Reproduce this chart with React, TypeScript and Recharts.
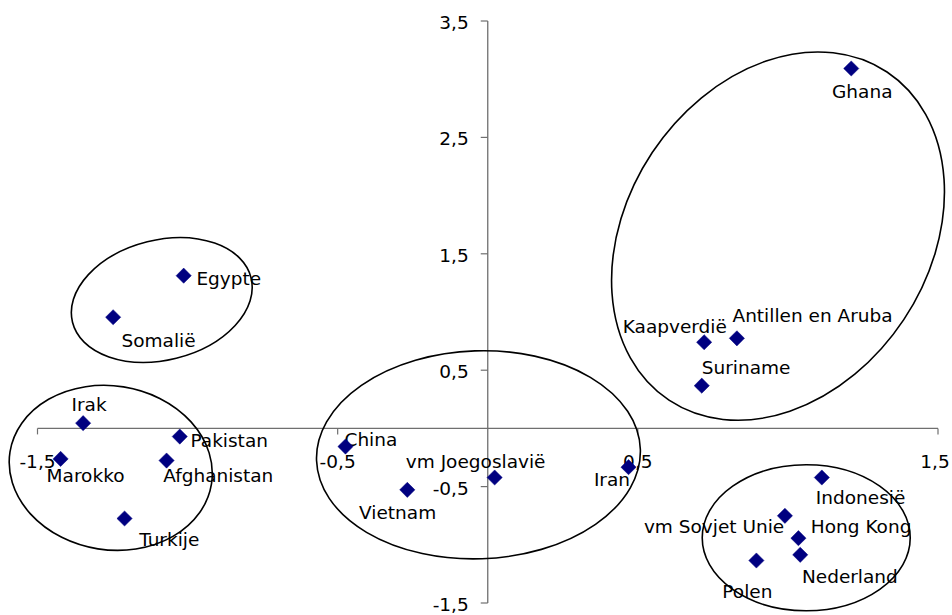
import React from 'react';
import { ScatterChart, Scatter, XAxis, YAxis, ReferenceLine, ReferenceDot } from 'recharts';

// ---- data ----
const countries = [
  'Ghana', 'Egypte', 'Somalië', 'Antillen en Aruba', 'Kaapverdië', 'Suriname',
  'Irak', 'Pakistan', 'Marokko', 'Afghanistan', 'Turkije',
  'China', 'Vietnam', 'vm Joegoslavië', 'Iran',
  'Indonesië', 'vm Sovjet Unie', 'Hong Kong', 'Nederland', 'Polen',
];
const xValues = [
  1.211, -1.013, -1.248, 0.830, 0.721, 0.713,
  -1.348, -1.026, -1.423, -1.070, -1.210,
  -0.474, -0.268, 0.023, 0.469,
  1.113, 0.990, 1.035, 1.041, 0.895,
];
const yValues = [
  3.092, 1.312, 0.955, 0.774, 0.740, 0.367,
  0.045, -0.070, -0.262, -0.276, -0.774,
  -0.156, -0.528, -0.422, -0.333,
  -0.422, -0.751, -0.943, -1.086, -1.135,
];

const xTicks = [-1.5, -0.5, 0.5, 1.5];
const yTicks = [3.5, 2.5, 1.5, 0.5, -0.5, -1.5];

// centres of the group ellipses (data units)
const groupIds = ['noordafrika', 'westazie', 'midden', 'caribisch', 'oost'];
const groupCenterX = [-1.086, -1.256, -0.031, 0.967, 1.061];
const groupCenterY = [1.103, -0.339, -0.227, 1.652, -0.940];

// ---- styles / placement (kept apart from data) ----
const FONT = "'DejaVu Sans', Verdana, sans-serif";
const FONT_SIZE = 18.5;
const MARKER = '#000080';
const AXIS = '#6f6f6f';

const ellipseStyle: Record<string, { rx: number; ry: number; angle: number }> = {
  noordafrika: { rx: 92, ry: 60, angle: -14 },
  westazie: { rx: 102, ry: 82, angle: 9 },
  midden: { rx: 162, ry: 104, angle: -2 },
  caribisch: { rx: 197, ry: 151, angle: -56.4 },
  oost: { rx: 104, ry: 73, angle: 0 },
};

type Anchor = 'start' | 'middle' | 'end';
const labelPlacement: Record<string, [number, number, Anchor]> = {
  'Ghana': [11, 30, 'middle'],
  'Egypte': [12.7, 9.3, 'start'],
  'Somalië': [8.4, 29.4, 'start'],
  'Antillen en Aruba': [-4.4, -16.6, 'start'],
  'Kaapverdië': [22.7, -9, 'end'],
  'Suriname': [0, -11.7, 'start'],
  'Irak': [-11.6, -12.6, 'start'],
  'Pakistan': [10.7, 10, 'start'],
  'Marokko': [-14, 22.7, 'start'],
  'Afghanistan': [-3.4, 21, 'start'],
  'Turkije': [14.6, 27.3, 'start'],
  'China': [-1, -0.7, 'start'],
  'Vietnam': [-9.7, 29.3, 'middle'],
  'vm Joegoslavië': [-19, -10, 'middle'],
  'Iran': [1.5, 18.4, 'end'],
  'Indonesië': [-6, 26.3, 'start'],
  'vm Sovjet Unie': [-0.7, 17.3, 'end'],
  'Hong Kong': [12.4, -5, 'start'],
  'Nederland': [1.7, 27.7, 'start'],
  'Polen': [-9, 37.6, 'middle'],
};

const points = countries.map((name, i) => ({ name, x: xValues[i], y: yValues[i] }));
const groups = groupIds.map((id, i) => ({ id, x: groupCenterX[i], y: groupCenterY[i] }));

const fmt = (v: number) => v.toFixed(1).replace('.', ',');

const PointShape = (props: any) => {
  const { cx, cy, payload } = props;
  if (cx == null || cy == null) return null;
  const d = 7.6;
  const [dx, dy, anchor] = labelPlacement[payload.name] || [8, 0, 'start'];
  return (
    <g>
      <text
        x={cx + dx}
        y={cy + dy}
        textAnchor={anchor}
        fontFamily={FONT}
        fontSize={FONT_SIZE}
        fill="#000"
      >
        {payload.name}
      </text>
      <polygon
        points={`${cx},${cy - d} ${cx + d},${cy} ${cx},${cy + d} ${cx - d},${cy}`}
        fill={MARKER}
        stroke={MARKER}
        strokeWidth={0.5}
      />
    </g>
  );
};

const EllipseShape = (props: any) => {
  const { cx, cy, payload } = props;
  if (cx == null || cy == null) return null;
  const s = ellipseStyle[payload.id];
  return (
    <ellipse
      cx={cx}
      cy={cy}
      rx={s.rx}
      ry={s.ry}
      transform={`rotate(${s.angle} ${cx} ${cy})`}
      fill="none"
      stroke="#000"
      strokeWidth={1.6}
    />
  );
};

const makeXTick = (v: number, shift: number) => (props: any) => {
  const { cx, cy } = props;
  return (
    <g>
      <line x1={cx} y1={cy} x2={cx} y2={cy + 6} stroke={AXIS} strokeWidth={1.2} />
      <text x={cx + shift} y={cy + 40} textAnchor="middle" fontFamily={FONT} fontSize={FONT_SIZE} fill="#000">
        {fmt(v)}
      </text>
    </g>
  );
};

const makeYTick = (v: number) => (props: any) => {
  const { cx, cy } = props;
  return (
    <g>
      <line x1={cx - 7} y1={cy} x2={cx} y2={cy} stroke={AXIS} strokeWidth={1.2} />
      <text x={cx - 19} y={cy + 8} textAnchor="end" fontFamily={FONT} fontSize={FONT_SIZE} fill="#000">
        {fmt(v)}
      </text>
    </g>
  );
};

export default function App() {
  return (
    <div style={{ position: 'absolute', left: 0, top: 0, width: 952, height: 615, background: '#fff' }}>
      <ScatterChart
        width={952}
        height={615}
        margin={{ top: 21, right: 14, bottom: 12, left: 37.5 }}
      >
        <XAxis type="number" dataKey="x" domain={[-1.5, 1.5]} hide />
        <YAxis type="number" dataKey="y" domain={[-1.5, 3.5]} hide />
        <ReferenceLine y={0} stroke={AXIS} strokeWidth={1.3} />
        <ReferenceLine x={0} stroke={AXIS} strokeWidth={1.3} />
        {xTicks.map((v, i) => (
          <ReferenceDot
            key={`xt${v}`}
            x={v}
            y={0}
            r={0}
            shape={makeXTick(v, i === xTicks.length - 1 ? -3 : 0)}
          />
        ))}
        {yTicks.map((v) => (
          <ReferenceDot key={`yt${v}`} x={0} y={v} r={0} shape={makeYTick(v)} />
        ))}
        <Scatter data={points} shape={PointShape} isAnimationActive={false} />
        <Scatter data={groups} shape={EllipseShape} isAnimationActive={false} />
      </ScatterChart>
    </div>
  );
}
